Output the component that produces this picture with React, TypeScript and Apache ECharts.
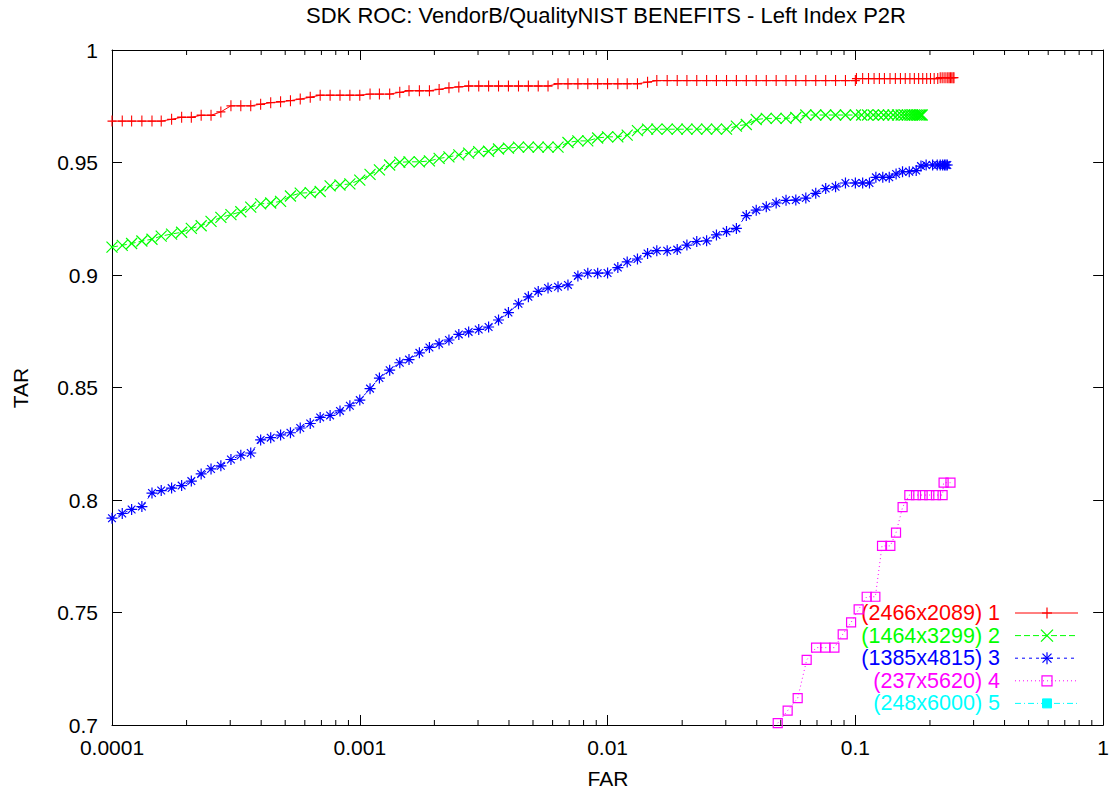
import { useEffect, useRef } from 'react';
import * as echarts from 'echarts';

const TITLE = 'SDK ROC: VendorB/QualityNIST BENEFITS - Left Index P2R';
const X_NAME = 'FAR';
const Y_NAME = 'TAR';
const X_TICK_LABELS = ['0.0001', '0.001', '0.01', '0.1', '1'];
const Y_TICK_LABELS = ['0.7', '0.75', '0.8', '0.85', '0.9', '0.95', '1'];
const X_MIN = 0.0001;
const X_MAX = 1;
const Y_MIN = 0.7;
const Y_MAX = 1;
const Y_STEP = 0.05;

const SERIES_NAMES = ['(2466x2089) 1', '(1464x3299) 2', '(1385x4815) 3', '(237x5620) 4', '(248x6000) 5'];
const COLORS = ['#ff0000', '#00ff00', '#0000ff', '#ff00ff', '#00ffff'];

const MINOR_TICKS = [
  0.0002, 0.0003, 0.0004, 0.0005, 0.0006, 0.0007, 0.0008, 0.0009,
  0.002, 0.003, 0.004, 0.005, 0.006, 0.007, 0.008, 0.009,
  0.02, 0.03, 0.04, 0.05, 0.06, 0.07, 0.08, 0.09,
  0.2, 0.3, 0.4, 0.5, 0.6, 0.7, 0.8, 0.9,
];

// FAR sampling positions (shared by curves 1-3 up to 0.1)
const FAR_GRID = [
  0.0001, 0.00011, 0.00012, 0.000132, 0.000145, 0.000158, 0.000174, 0.000191, 0.000209, 0.000229,
  0.000251, 0.000275, 0.000302, 0.000331, 0.000363, 0.000398, 0.000437, 0.000479, 0.000525, 0.000575,
  0.000631, 0.000692, 0.000759, 0.000832, 0.000912,
  0.001, 0.0011, 0.0012, 0.00132, 0.00145, 0.00158, 0.00174, 0.00191, 0.00209, 0.00229,
  0.00251, 0.00275, 0.00302, 0.00331, 0.00363, 0.00398, 0.00437, 0.00479, 0.00525, 0.00575,
  0.00631, 0.00692, 0.00759, 0.00832, 0.00912,
  0.01, 0.011, 0.012, 0.0132, 0.0145, 0.0158, 0.0174, 0.0191, 0.0209, 0.0229,
  0.0251, 0.0275, 0.0302, 0.0331, 0.0363, 0.0398, 0.0437, 0.0479, 0.0525, 0.0575,
  0.0631, 0.0692, 0.0759, 0.0832, 0.0912,
  0.1,
];

const RED_TAR = [
  0.9684, 0.9684, 0.9684, 0.9684, 0.9684, 0.9684, 0.9692, 0.9701, 0.9701, 0.971,
  0.971, 0.9725, 0.9752, 0.9752, 0.9752, 0.9759, 0.9766, 0.977, 0.9775, 0.9782,
  0.979, 0.9799, 0.9799, 0.9799, 0.9799,
  0.9799, 0.9804, 0.9804, 0.9804, 0.9812, 0.9819, 0.9819, 0.9819, 0.9825, 0.9832,
  0.9836, 0.984, 0.984, 0.984, 0.984, 0.984, 0.984, 0.984, 0.984, 0.984,
  0.985, 0.985, 0.985, 0.985, 0.985,
  0.985, 0.985, 0.985, 0.985, 0.9857, 0.9864, 0.9864, 0.9864, 0.9864, 0.9864,
  0.9864, 0.9864, 0.9864, 0.9864, 0.9864, 0.9864, 0.9864, 0.9864, 0.9864, 0.9864,
  0.9864, 0.9864, 0.9864, 0.9864, 0.9864,
  0.9864,
];
const RED_TAIL = [
  [0.101, 0.9873], [0.107, 0.9873], [0.113, 0.9873], [0.119, 0.9873], [0.125, 0.9873],
  [0.131, 0.9873], [0.138, 0.9873], [0.145, 0.9873], [0.152, 0.9873], [0.159, 0.9873],
  [0.166, 0.9873], [0.173, 0.9873], [0.18, 0.9873], [0.187, 0.9873], [0.194, 0.9873],
  [0.201, 0.9873], [0.208, 0.9873], [0.215, 0.9873], [0.22, 0.9877], [0.224, 0.9877],
  [0.228, 0.9877], [0.232, 0.9877], [0.236, 0.9877], [0.239, 0.9877], [0.242, 0.9877],
  [0.245, 0.9877], [0.248, 0.9877], [0.25, 0.9877],
];

const GREEN_TAR = [
  0.9124, 0.9132, 0.914, 0.9151, 0.9159, 0.9173, 0.9182, 0.919, 0.9207, 0.9219,
  0.9238, 0.9256, 0.9268, 0.9281, 0.9302, 0.9316, 0.932, 0.9327, 0.9351, 0.9364,
  0.9366, 0.9371, 0.9396, 0.94, 0.9405,
  0.9422, 0.9447, 0.9467, 0.9489, 0.9501, 0.9503, 0.9503, 0.9507, 0.9518, 0.9525,
  0.9534, 0.9542, 0.9548, 0.955, 0.956, 0.9564, 0.9568, 0.9568, 0.9568, 0.9568,
  0.9568, 0.9589, 0.9596, 0.9596, 0.9609,
  0.9614, 0.9614, 0.9622, 0.9642, 0.9648, 0.9648, 0.9648, 0.9648, 0.9648, 0.9648,
  0.9648, 0.9648, 0.9648, 0.9662, 0.9669, 0.9691, 0.9696, 0.9696, 0.9696, 0.97,
  0.9711, 0.9711, 0.9711, 0.9711, 0.9711,
  0.9711,
];
const GREEN_TAIL = [
  [0.106, 0.9711], [0.112, 0.9711], [0.118, 0.9711], [0.124, 0.9711], [0.13, 0.9711],
  [0.136, 0.9711], [0.142, 0.9711], [0.148, 0.9711], [0.153, 0.9711], [0.158, 0.9711],
  [0.162, 0.9711], [0.166, 0.9711], [0.17, 0.9711], [0.173, 0.9711], [0.176, 0.9711],
  [0.179, 0.9711], [0.182, 0.9711], [0.184, 0.9711], [0.186, 0.9711],
];

const BLUE_TAR = [
  0.7919, 0.794, 0.7958, 0.7971, 0.8031, 0.8042, 0.8053, 0.8064, 0.8084, 0.8116,
  0.8138, 0.8152, 0.818, 0.8199, 0.8209, 0.8267, 0.8277, 0.8289, 0.8299, 0.832,
  0.834, 0.8367, 0.8376, 0.8396, 0.8419,
  0.8444, 0.8495, 0.8542, 0.8577, 0.861, 0.8624, 0.8654, 0.8678, 0.8694, 0.8711,
  0.8736, 0.8747, 0.8758, 0.8769, 0.88, 0.8833, 0.8872, 0.8903, 0.8927, 0.8942,
  0.8948, 0.8956, 0.8996, 0.9008, 0.9008,
  0.9009, 0.9033, 0.9058, 0.9071, 0.9096, 0.9108, 0.9108, 0.9113, 0.9133, 0.9149,
  0.9152, 0.9178, 0.9193, 0.9207, 0.9264, 0.9288, 0.9303, 0.932, 0.9332, 0.9333,
  0.9342, 0.9363, 0.9384, 0.9392, 0.9409,
  0.9409,
];
const BLUE_TAIL = [
  [0.107, 0.9409], [0.114, 0.9409], [0.121, 0.9434], [0.129, 0.9434], [0.137, 0.9434],
  [0.146, 0.9449], [0.155, 0.9459], [0.165, 0.9459], [0.176, 0.9464], [0.184, 0.9484],
  [0.193, 0.9489], [0.205, 0.9489], [0.214, 0.9489], [0.22, 0.9489], [0.225, 0.9489],
  [0.229, 0.9489], [0.232, 0.9489], [0.235, 0.9489],
];

const MAGENTA_POINTS = [
  [0.0486, 0.7008], [0.0533, 0.7064], [0.0585, 0.7119], [0.0636, 0.7289], [0.0694, 0.7344],
  [0.0757, 0.7344], [0.0823, 0.7344], [0.0889, 0.7403], [0.0961, 0.7456], [0.1031, 0.7514],
  [0.1111, 0.757], [0.1204, 0.757], [0.1281, 0.7796], [0.1384, 0.7796], [0.1459, 0.7855],
  [0.1551, 0.7968], [0.1651, 0.8022], [0.1757, 0.8022], [0.1868, 0.8022], [0.1988, 0.8022],
  [0.2115, 0.8022], [0.2249, 0.8022], [0.227, 0.8077], [0.242, 0.8077],
];
const CYAN_POINTS: number[][] = [];

const FONT = '"Liberation Sans", Arial, Helvetica, sans-serif';

const SYM_PLUS = 'path://M5,0L5,10M0,5L10,5';
const SYM_CROSS = 'path://M0,0L10,10M0,10L10,0';
const SYM_STAR = 'path://M5,0L5,10M0,5L10,5M1.5,1.5L8.5,8.5M1.5,8.5L8.5,1.5';
const SYM_SQUARE = 'path://M0,0L10,0L10,10L0,10Z';

const DASHES: any[] = ['solid', [6, 3], [3, 4], [1, 3], [6, 3, 1, 3]];

function gridSeries(tar: number[], tail: number[][]) {
  return FAR_GRID.map((f, i) => [f, tar[i]]).concat(tail);
}

export default function App() {
  const ref = useRef<HTMLDivElement>(null);
  useEffect(() => {
    if (!ref.current) return;
    const chart = echarts.init(ref.current, null, { renderer: 'svg' });

    const datasets = [
      gridSeries(RED_TAR, RED_TAIL),
      gridSeries(GREEN_TAR, GREEN_TAIL),
      gridSeries(BLUE_TAR, BLUE_TAIL),
      MAGENTA_POINTS,
      CYAN_POINTS,
    ];
    const symbols = [SYM_PLUS, SYM_CROSS, SYM_STAR, SYM_SQUARE, 'rect'];
    const sizes: any[] = [[9, 11], 11, 11, 9, 9];

    const lineSeries = datasets.map((d, k) => ({
      type: 'line',
      name: SERIES_NAMES[k],
      data: d,
      xAxisIndex: 0,
      yAxisIndex: 0,
      symbol: symbols[k],
      symbolSize: sizes[k],
      showAllSymbol: true,
      silent: true,
      clip: true,
      lineStyle: { color: COLORS[k], width: 1, type: DASHES[k] },
      itemStyle: {
        color: k === 4 ? COLORS[k] : 'rgba(0,0,0,0)',
        borderColor: COLORS[k],
        borderWidth: 1.2,
      },
      emphasis: { disabled: true },
      z: 3 + k,
    }));

    const minorSeries = {
      type: 'custom',
      xAxisIndex: 0,
      yAxisIndex: 0,
      silent: true,
      data: MINOR_TICKS.map((v) => [v, Y_MIN]),
      encode: { x: 0, y: 1 },
      renderItem: (_p: any, api: any) => {
        const v = api.value(0);
        const b = api.coord([v, Y_MIN]);
        const t = api.coord([v, Y_MAX]);
        return {
          type: 'group',
          children: [
            { type: 'line', shape: { x1: b[0], y1: b[1], x2: b[0], y2: b[1] - 5 }, style: { stroke: '#000', lineWidth: 1 } },
            { type: 'line', shape: { x1: t[0], y1: t[1], x2: t[0], y2: t[1] + 5 }, style: { stroke: '#000', lineWidth: 1 } },
          ],
        };
      },
      z: 2,
    };

    const xFmt = (v: number) => X_TICK_LABELS[Math.round(Math.log10(v)) + 4] ?? '';
    const yFmt = (v: number) => Y_TICK_LABELS[Math.round((v - Y_MIN) / Y_STEP)] ?? '';

    const baseX = {
      type: 'log',
      logBase: 10,
      min: X_MIN,
      max: X_MAX,
      splitNumber: 4,
      splitLine: { show: false },
      axisLine: { show: true, lineStyle: { color: '#000', width: 1 } },
      axisTick: { show: true, inside: true, length: 10, lineStyle: { color: '#000', width: 1 } },
      minorTick: { show: false },
    };
    const baseY = {
      type: 'value',
      min: Y_MIN,
      max: Y_MAX,
      interval: Y_STEP,
      splitLine: { show: false },
      axisLine: { show: true, lineStyle: { color: '#000', width: 1 } },
      axisTick: { show: true, inside: true, length: 10, lineStyle: { color: '#000', width: 1 } },
    };

    const legendRows: any[] = [];
    SERIES_NAMES.forEach((name, k) => {
      const y = 613 + 22.6 * k;
      const c = COLORS[k];
      const mx = 1047;
      legendRows.push({
        type: 'text',
        x: 1000,
        y,
        style: { text: name, fill: c, font: `21.5px ${FONT}`, align: 'right', verticalAlign: 'middle' },
      });
      legendRows.push({
        type: 'line',
        shape: { x1: 1015, y1: y, x2: 1078, y2: y },
        style: { stroke: c, lineWidth: 1, lineDash: k === 0 ? null : DASHES[k] },
      });
      const ln = (x1: number, y1: number, x2: number, y2: number) => ({
        type: 'line',
        shape: { x1, y1, x2, y2 },
        style: { stroke: c, lineWidth: 1.2 },
      });
      if (k === 0) {
        legendRows.push(ln(mx, y - 5.5, mx, y + 5.5), ln(mx - 5, y, mx + 5, y));
      } else if (k === 1) {
        legendRows.push(ln(mx - 6, y - 6, mx + 6, y + 6), ln(mx - 6, y + 6, mx + 6, y - 6));
      } else if (k === 2) {
        legendRows.push(
          ln(mx, y - 6, mx, y + 6),
          ln(mx - 6, y, mx + 6, y),
          ln(mx - 4.5, y - 4.5, mx + 4.5, y + 4.5),
          ln(mx - 4.5, y + 4.5, mx + 4.5, y - 4.5),
        );
      } else if (k === 3) {
        legendRows.push({
          type: 'rect',
          shape: { x: mx - 5, y: y - 5, width: 10, height: 10 },
          style: { stroke: c, fill: 'none', lineWidth: 1.2 },
        });
      } else {
        legendRows.push({
          type: 'rect',
          shape: { x: mx - 4.5, y: y - 4.5, width: 9, height: 9 },
          style: { stroke: c, fill: c, lineWidth: 1 },
        });
      }
    });

    const option: any = {
      animation: false,
      backgroundColor: '#ffffff',
      textStyle: { fontFamily: FONT },
      grid: { left: 112, right: 8, top: 50, bottom: 69, containLabel: false },
      xAxis: [
        {
          ...baseX,
          position: 'bottom',
          axisLabel: { show: true, formatter: xFmt, color: '#000', fontSize: 21, fontFamily: FONT, margin: 12 },
        },
        {
          ...baseX,
          position: 'top',
          axisLabel: { show: false },
        },
      ],
      yAxis: [
        {
          ...baseY,
          position: 'left',
          axisLabel: { show: true, formatter: yFmt, color: '#000', fontSize: 21, fontFamily: FONT, margin: 14 },
        },
        {
          ...baseY,
          position: 'right',
          axisLabel: { show: false },
        },
      ],
      series: [minorSeries, ...lineSeries],
      graphic: [
        {
          type: 'text',
          x: 606,
          y: 15,
          style: { text: TITLE, fill: '#000', font: `22px ${FONT}`, align: 'center', verticalAlign: 'middle' },
        },
        {
          type: 'text',
          x: 608,
          y: 778,
          style: { text: X_NAME, fill: '#000', font: `21px ${FONT}`, align: 'center', verticalAlign: 'middle' },
        },
        {
          type: 'text',
          x: 20,
          y: 388,
          rotation: Math.PI / 2,
          style: { text: Y_NAME, fill: '#000', font: `21px ${FONT}`, align: 'center', verticalAlign: 'middle' },
        },
        ...legendRows,
      ],
    };

    chart.setOption(option);
    return () => chart.dispose();
  }, []);

  return <div ref={ref} style={{ position: 'absolute', left: 0, top: 0, width: 1112, height: 794 }} />;
}
